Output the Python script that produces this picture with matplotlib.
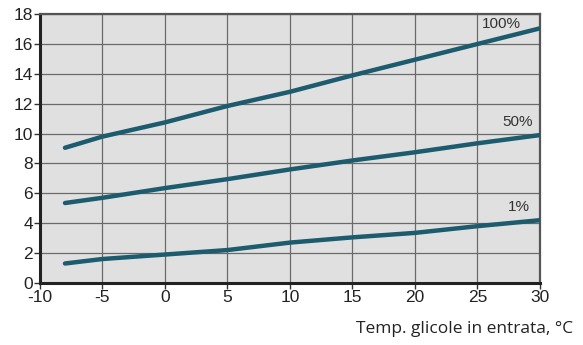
import matplotlib
matplotlib.use("Agg")
import matplotlib.pyplot as plt

plt.rcParams["axes.unicode_minus"] = False

# dati
temp = [-8, -5, 0, 5, 10, 15, 20, 25, 30]
curve_100 = [9.05, 9.8, 10.75, 11.85, 12.8, 13.9, 14.95, 16.0, 17.05]
curve_50 = [5.35, 5.7, 6.35, 6.95, 7.6, 8.2, 8.75, 9.35, 9.9]
curve_1 = [1.3, 1.6, 1.9, 2.2, 2.7, 3.05, 3.35, 3.8, 4.2]
labels = ["100%", "50%", "1%"]
label_pos = [(28.5, 17.35), (29.4, 10.8), (29.2, 5.1)]

x_ticks = [-10, -5, 0, 5, 10, 15, 20, 25, 30]
y_ticks = [0, 2, 4, 6, 8, 10, 12, 14, 16, 18]

color = "#1d5b6e"

fig = plt.figure(figsize=(5.83, 3.45), dpi=100)
ax = fig.add_axes([0.0686, 0.180, 0.8576, 0.779])
ax.set_facecolor("#e0e0e0")

for ys in (curve_100, curve_50, curve_1):
    ax.plot(temp, ys, color=color, lw=3.2, solid_capstyle="round", zorder=3)

for lab, (lx, ly) in zip(labels, label_pos):
    ax.text(lx, ly, lab, ha="right", va="center", fontsize=11,
            color="#333333", family="Liberation Sans", zorder=4)

ax.set_xlim(-10, 30)
ax.set_ylim(0, 18)
ax.set_xticks(x_ticks)
ax.set_yticks(y_ticks)
ax.grid(True, color="#6a6a6a", lw=0.9)
ax.set_axisbelow(True)

for side in ("left", "bottom"):
    ax.spines[side].set_linewidth(2.2)
    ax.spines[side].set_color("#222222")
for side in ("top", "right"):
    ax.spines[side].set_linewidth(1.6)
    ax.spines[side].set_color("#555555")

ax.tick_params(length=4, width=1, color="#333333", labelsize=12.5,
               labelcolor="#222222", pad=1)
for t in ax.get_xticklabels() + ax.get_yticklabels():
    t.set_family("Liberation Sans")

fig.text(0.983, 0.045, "Temp. glicole in entrata, °C", ha="right", va="center",
         fontsize=12.5, family="Open Sans", color="#222222")

fig.savefig("out.png", dpi=100)
